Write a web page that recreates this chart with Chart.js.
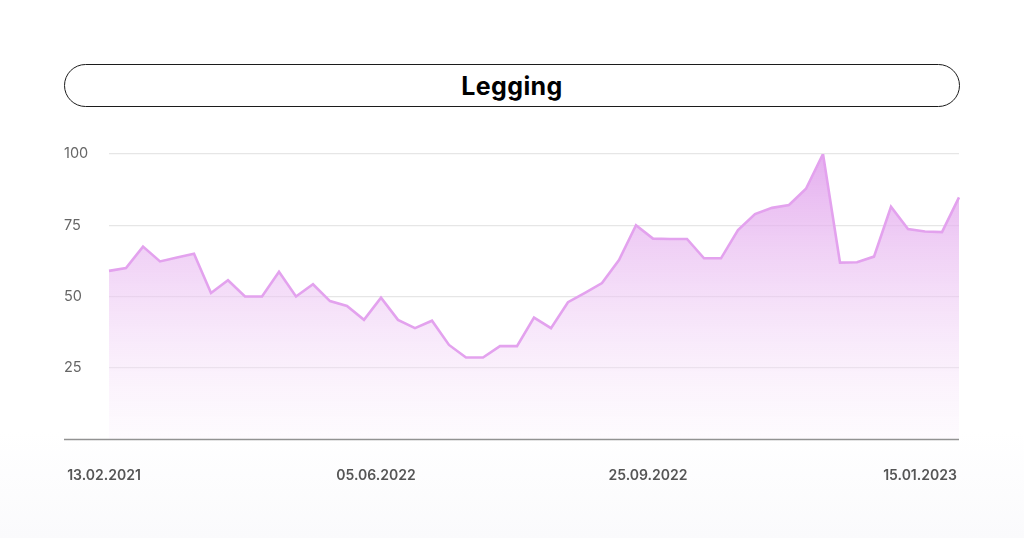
<!DOCTYPE html>
<html>
<head>
<meta charset="utf-8">
<script src="https://cdn.jsdelivr.net/npm/chart.js@4.4.0/dist/chart.umd.min.js"></script>
<style>
  html, body { margin: 0; padding: 0; }
  body { width: 1024px; height: 538px; position: relative; overflow: hidden;
         background: linear-gradient(to bottom, #ffffff 0%, #ffffff 80%, #fafafc 100%); }
  #title { position: absolute; left: 64px; top: 64px; width: 894px; height: 41px;
           border: 1.3px solid #1c1c1c; border-radius: 22px; box-sizing: content-box;
           display: flex; align-items: center; justify-content: center;
           font-family: "Inter", "Lato", sans-serif; font-weight: 700; font-size: 25px; color: #000; letter-spacing: 0.4px; }
  #wrap { position: absolute; left: 0; top: 0; width: 1024px; height: 538px; }
</style>
</head>
<body>
<div id="title">Legging</div>
<div id="wrap"><canvas id="c" width="1024" height="538"></canvas></div>
<script>
const categories = [
  '13.02.2021','20.02.2022','27.02.2022','06.03.2022','13.03.2022','20.03.2022','27.03.2022',
  '03.04.2022','10.04.2022','17.04.2022','24.04.2022','01.05.2022','08.05.2022','15.05.2022',
  '22.05.2022','29.05.2022','05.06.2022','12.06.2022','19.06.2022','26.06.2022','03.07.2022',
  '10.07.2022','17.07.2022','24.07.2022','31.07.2022','07.08.2022','14.08.2022','21.08.2022',
  '28.08.2022','04.09.2022','11.09.2022','18.09.2022','25.09.2022','02.10.2022','09.10.2022',
  '16.10.2022','23.10.2022','30.10.2022','06.11.2022','13.11.2022','20.11.2022','27.11.2022',
  '04.12.2022','11.12.2022','18.12.2022','25.12.2022','01.01.2023','08.01.2023','15.01.2023',
  '22.01.2023','29.01.2023'
];
const values = [
  59, 60, 67.5, 62.3, 63.7, 65, 51.2, 55.7, 50, 50, 58.7, 50, 54.3, 48.4, 46.7, 41.8, 49.6,
  41.8, 38.9, 41.5, 33, 28.6, 28.6, 32.6, 32.6, 42.6, 38.9, 48, 51.3, 54.7, 62.8, 75, 70.3,
  70.2, 70.2, 63.4, 63.4, 73.3, 78.9, 81.1, 82.1, 87.8, 100, 61.9, 62, 64, 81.5, 73.7, 72.8,
  72.6, 84.8
];
const shownTicks = ['13.02.2021', '05.06.2022', '25.09.2022', '15.01.2023'];
const yTicks = [25, 50, 75, 100];

const axisLine = {
  id: 'axisLine',
  afterDatasetsDraw(chart) {
    const { ctx, chartArea } = chart;
    ctx.save();
    ctx.strokeStyle = '#929292';
    ctx.lineWidth = 1.6;
    ctx.beginPath();
    ctx.moveTo(64, chartArea.bottom + 0.5);
    ctx.lineTo(chartArea.right, chartArea.bottom + 0.5);
    ctx.stroke();
    ctx.restore();
  }
};

new Chart(document.getElementById('c'), {
  type: 'line',
  data: {
    labels: categories,
    datasets: [{
      data: values,
      borderColor: '#e3a2ee',
      borderWidth: 2.6,
      pointRadius: 0,
      tension: 0,
      fill: 'origin',
      backgroundColor: (ctx) => {
        const area = ctx.chart.chartArea;
        if (!area) return 'rgba(230,170,238,0.5)';
        const g = ctx.chart.ctx.createLinearGradient(0, area.top, 0, area.bottom);
        g.addColorStop(0, 'rgba(224,160,236,0.85)');
        g.addColorStop(0.5, 'rgba(236,196,243,0.55)');
        g.addColorStop(1, 'rgba(250,238,252,0.25)');
        return g;
      }
    }]
  },
  options: {
    responsive: false,
    animation: false,
    layout: { padding: { left: 64, right: 65, top: 154, bottom: 49 } },
    plugins: { legend: { display: false }, tooltip: { enabled: false }, title: { display: false } },
    scales: {
      x: {
        type: 'category',
        grid: { display: false },
        border: { display: false },
        ticks: {
          autoSkip: false, maxRotation: 0, minRotation: 0, padding: 20, labelOffset: -5,
          color: '#555555',
          font: { family: 'Inter, Lato, sans-serif', size: 14, weight: '600' },
          callback: function (v, i) { const l = this.getLabelForValue(v); return shownTicks.includes(l) ? l : ''; }
        },
        afterFit: (s) => { s.height = 50; }
      },
      y: {
        min: 0, max: 100,
        border: { display: false },
        grid: {
          drawTicks: false,
          color: (c) => (yTicks.includes(c.tick.value) ? '#e6e6e6' : 'rgba(0,0,0,0)'),
          lineWidth: 1.2
        },
        ticks: {
          stepSize: 25, crossAlign: 'far', padding: 0,
          color: '#666666',
          font: { family: 'Inter, Lato, sans-serif', size: 14.5 },
          callback: (v) => (yTicks.includes(v) ? String(v) : '')
        },
        afterFit: (s) => { s.width = 45; }
      }
    }
  },
  plugins: [axisLine]
});
</script>
</body>
</html>
